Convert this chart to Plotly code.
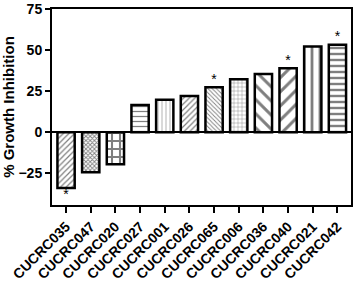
import plotly.graph_objects as go

categories = ["CUCRC035", "CUCRC047", "CUCRC020", "CUCRC027", "CUCRC001", "CUCRC026",
              "CUCRC065", "CUCRC006", "CUCRC036", "CUCRC040", "CUCRC021", "CUCRC042"]
values = [-34.0, -24.4, -19.5, 16.5, 19.7, 22.1, 27.4, 32.3, 35.5, 39.0, 52.2, 53.2]
significant = [True, False, False, False, False, False, True, False, False, True, False, True]
y_ticks = [-25, 0, 25, 50, 75]

shapes = ["/", "x", "+", "-", "|", "/", "\\", "+", "\\", "/", "|", "-"]
sizes = [4, 3, 8, 5, 4, 4, 3, 4, 10, 10, 8, 6]
solid = [0.3, 0.5, 0.45, 0.25, 0.15, 0.3, 0.3, 0.2, 0.3, 0.3, 0.35, 0.4]

font = "Liberation Sans, Arial, sans-serif"

fig = go.Figure()
fig.add_trace(go.Bar(
    x=categories, y=values, width=0.7,
    marker=dict(color="white", line=dict(color="black", width=2.5),
                pattern=dict(shape=shapes, size=sizes, solidity=solid,
                             fgcolor="black", bgcolor="white", fillmode="overlay")),
    showlegend=False,
))

sx = [c for c, s in zip(categories, significant) if s]
sy = [v for v, s in zip(values, significant) if s]
fig.add_trace(go.Scatter(
    x=sx, y=sy, mode="text", text=["*"] * len(sx),
    textposition=["bottom center" if v < 0 else "top center" for v in sy],
    textfont=dict(family=font, size=14, color="black"),
    showlegend=False, hoverinfo="skip",
))

fig.update_layout(
    width=355, height=285,
    margin=dict(l=52, r=4, t=9, b=80),
    plot_bgcolor="white", paper_bgcolor="white",
    font=dict(family=font, color="black"),
)
fig.update_xaxes(
    range=[-0.57, 11.55], tickangle=-45, automargin=False,
    tickfont=dict(family=font, size=14, weight="bold"),
    ticks="outside", ticklen=6, tickwidth=2, tickcolor="black",
    showline=True, linecolor="black", linewidth=2, mirror=True,
    showgrid=False,
)
fig.update_yaxes(
    range=[-44.3, 75], tickvals=y_ticks, automargin=False,
    tickfont=dict(family=font, size=14, weight="bold"),
    ticks="outside", ticklen=5, tickwidth=2, tickcolor="black",
    showline=True, linecolor="black", linewidth=2, mirror=True,
    showgrid=False, zeroline=True, zerolinecolor="black", zerolinewidth=2,
    title=dict(text="% Growth Inhibition", font=dict(family=font, size=15, weight="bold"), standoff=4),
)
fig.write_html("out.html", config={"displayModeBar": False},
               post_script="document.body.style.margin='0';")
